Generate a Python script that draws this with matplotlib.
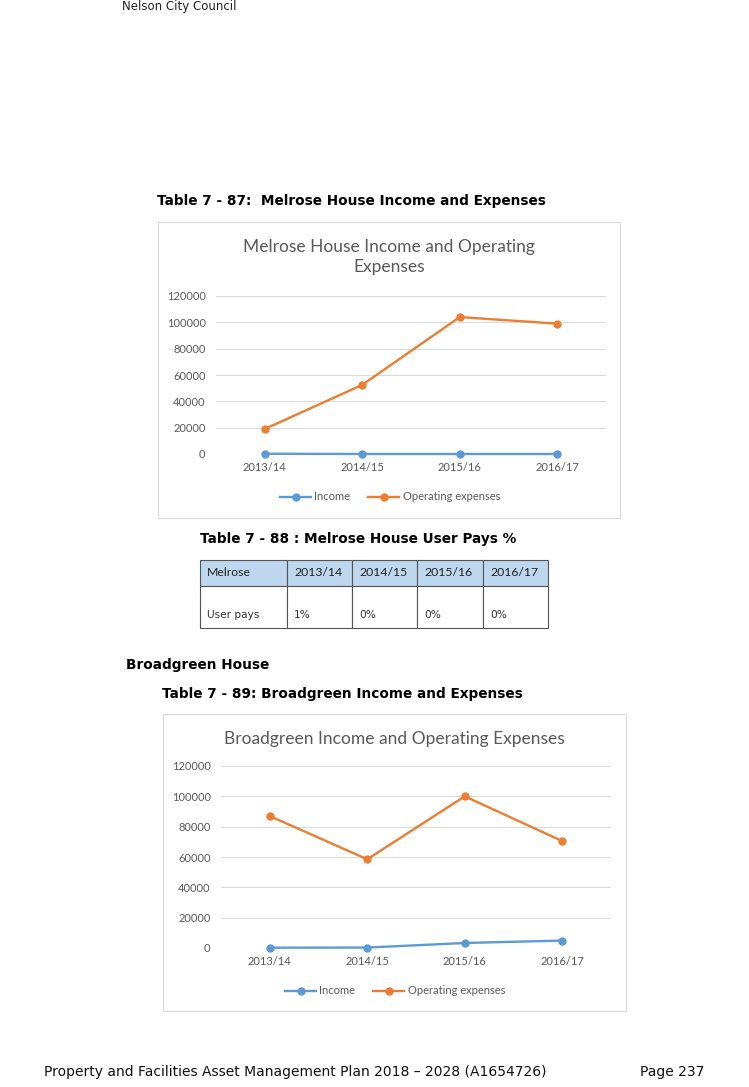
import matplotlib
matplotlib.use("Agg")
import matplotlib.pyplot as plt
from matplotlib.patches import Rectangle

W, H = 749, 1087

years = ["2013/14", "2014/15", "2015/16", "2016/17"]

# Melrose House
melrose_income = [190, 0, 0, 0]
melrose_expenses = [19000, 52500, 104000, 99000]

# Broadgreen House
broadgreen_income = [200, 300, 3300, 4900]
broadgreen_expenses = [87000, 58500, 100000, 70500]

# user pays table
table_cols = ["Melrose", "2013/14", "2014/15", "2015/16", "2016/17"]
table_row = ["User pays", "1%", "0%", "0%", "0%"]

BLUE = "#5b9bd5"
ORANGE = "#ed7d31"
GREY = "#595959"
GRID = "#d9d9d9"
CHART_FONT = "Lato"
HEAD = 9.8

fig = plt.figure(figsize=(W / 100, H / 100), dpi=100)

# page layer in pixel coordinates
page = fig.add_axes([0, 0, 1, 1], zorder=0)
page.set_xlim(0, W)
page.set_ylim(H, 0)
page.axis("off")


def ax_rect(left, top, right, bottom):
    return [left / W, 1 - bottom / H, (right - left) / W, (bottom - top) / H]


def line_chart(rect, income, expenses, title, title_y, legend_xy, box):
    bx0, by0, bx1, by1 = box
    page.add_patch(Rectangle((bx0, by0), bx1 - bx0, by1 - by0, fill=False,
                             edgecolor=GRID, lw=0.8))
    page.text((bx0 + bx1) / 2, title_y, title, ha="center", va="center",
              fontsize=12.5, color=GREY, family=CHART_FONT, linespacing=1.35)
    ax = fig.add_axes(ax_rect(*rect), zorder=2)
    ax.patch.set_alpha(0)
    x = range(len(years))
    ax.plot(x, income, color=BLUE, lw=1.7, marker="o", ms=5, label="Income",
            zorder=3, clip_on=False)
    ax.plot(x, expenses, color=ORANGE, lw=1.7, marker="o", ms=5,
            label="Operating expenses", zorder=3, clip_on=False)
    ax.set_xlim(-0.5, len(years) - 0.5)
    ax.set_ylim(0, 120000)
    ax.set_yticks(range(0, 120001, 20000))
    ax.set_xticks(list(x))
    ax.set_xticklabels(years)
    ax.grid(axis="y", color=GRID, lw=0.7)
    ax.set_axisbelow(True)
    for s in ax.spines.values():
        s.set_visible(False)
    ax.tick_params(length=0, colors=GREY, labelsize=8)
    ax.tick_params(axis="x", pad=6)
    ax.tick_params(axis="y", pad=7.5)
    for lab in ax.get_xticklabels() + ax.get_yticklabels():
        lab.set_family(CHART_FONT)
    ax.legend(loc="center", bbox_to_anchor=(legend_xy[0] / W, 1 - legend_xy[1] / H),
              bbox_transform=fig.transFigure, ncol=2, frameon=False,
              handlelength=2.8, columnspacing=1.6, handletextpad=0.3,
              prop={"family": CHART_FONT, "size": 8}, labelcolor=GREY)
    return ax


# header / footer text
page.text(122, 0, "Nelson City Council", fontsize=8.5, color="#222222", va="top")
page.text(44, 1072, "Property and Facilities Asset Management Plan 2018 \u2013 2028 (A1654726)",
          fontsize=10, va="center", color="#111111")
page.text(704, 1072, "Page 237", fontsize=10, va="center", ha="right", color="#111111")

# Melrose chart
page.text(157, 201, "Table 7 - 87:  Melrose House Income and Expenses",
          fontsize=HEAD, weight="bold", va="center")
line_chart((216, 296, 606, 454), melrose_income, melrose_expenses,
           "Melrose House Income and Operating\nExpenses", 257, (390, 497),
           (158, 222, 620, 518))

# user pays table
page.text(200, 539, "Table 7 - 88 : Melrose House User Pays %",
          fontsize=HEAD, weight="bold", va="center")
col_edges = [200, 287, 352, 417, 483, 548]
head_top, head_bot, body_bot = 560, 586, 628
for i in range(len(table_cols)):
    x0, x1 = col_edges[i], col_edges[i + 1]
    page.add_patch(Rectangle((x0, head_top), x1 - x0, head_bot - head_top,
                             facecolor="#bdd7ee", edgecolor="#555555", lw=0.8))
    page.add_patch(Rectangle((x0, head_bot), x1 - x0, body_bot - head_bot,
                             facecolor="white", edgecolor="#555555", lw=0.8))
    page.text(x0 + 7, (head_top + head_bot) / 2, table_cols[i], fontsize=8.8,
              family=CHART_FONT, va="center", color="#222222")
    page.text(x0 + 7, 615, table_row[i], fontsize=7.6, va="center", color="#333333")

# Broadgreen chart
page.text(126, 665, "Broadgreen House", fontsize=HEAD, weight="bold", va="center")
page.text(162, 694, "Table 7 - 89: Broadgreen Income and Expenses",
          fontsize=HEAD, weight="bold", va="center")
line_chart((221, 766, 611, 948), broadgreen_income, broadgreen_expenses,
           "Broadgreen Income and Operating Expenses", 739, (395, 991),
           (163, 714, 626, 1011))

fig.savefig("out.png", dpi=100)
